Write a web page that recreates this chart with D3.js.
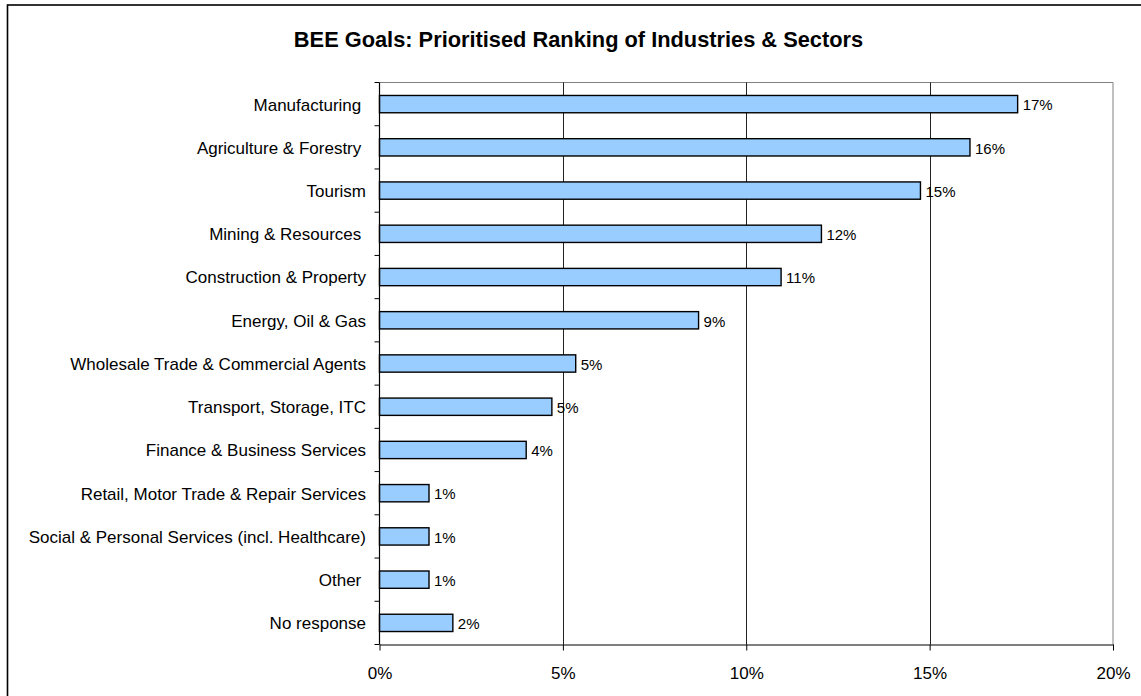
<!DOCTYPE html>
<html>
<head>
<meta charset="utf-8">
<script src="https://cdn.jsdelivr.net/npm/d3@7"></script>
<style>
  html, body { margin: 0; padding: 0; background: #fff; }
  svg { display: block; }
  text { font-family: "Liberation Sans", Arial, sans-serif; fill: #000; white-space: pre; }
</style>
</head>
<body>
<svg id="chart" width="1141" height="696"></svg>
<script>
// Sectors, top to bottom (trailing spaces are part of the labels)
const categories = [
  "Manufacturing ",
  "Agriculture & Forestry ",
  "Tourism",
  "Mining & Resources ",
  "Construction & Property",
  "Energy, Oil & Gas",
  "Wholesale Trade & Commercial Agents",
  "Transport, Storage, ITC",
  "Finance & Business Services",
  "Retail, Motor Trade & Repair Services",
  "Social & Personal Services (incl. Healthcare)",
  "Other ",
  "No response"
];

// Share of responses, in percent
const shares = [17.4, 16.1, 14.75, 12.05, 10.95, 8.7, 5.35, 4.7, 4.0, 1.35, 1.35, 1.35, 2.0];

// Horizontal axis ticks (percent)
const xTicks = [0, 5, 10, 15, 20];
const xTickLabels = ["0%", "5%", "10%", "15%", "20%"];

const title = "BEE Goals: Prioritised Ranking of Industries & Sectors";

const svg = d3.select("#chart");

const plot = { left: 379.5, right: 1113, top: 82.5, bottom: 644.5 };

const x = d3.scaleLinear().domain([0, 20]).range([plot.left, plot.right]);
const y = d3.scaleBand().domain(categories).range([plot.top, plot.bottom])
  .paddingInner(0.6).paddingOuter(0.3);

// Outer chart frame (runs off the right and bottom edges)
svg.append("rect")
  .attr("x", 7.5).attr("y", 5).attr("width", 1200).attr("height", 800)
  .attr("fill", "#fff").attr("stroke", "#000").attr("stroke-width", 1.6);

// Title
svg.append("text")
  .attr("x", 578.5).attr("y", 46.7)
  .attr("text-anchor", "middle")
  .style("font-size", "21.8px").style("font-weight", "bold")
  .text(title);

// Plot-area border (top and right)
svg.append("path")
  .attr("d", `M${plot.left},${plot.top}H${plot.right}V${plot.bottom}`)
  .attr("fill", "none").attr("stroke", "#808080").attr("stroke-width", 1);

// Vertical gridlines
svg.append("g")
  .selectAll("line")
  .data(xTicks.filter(t => t > 0 && t < 20))
  .join("line")
  .attr("x1", d => Math.round(x(d)) + 0.5).attr("x2", d => Math.round(x(d)) + 0.5)
  .attr("y1", plot.top).attr("y2", plot.bottom)
  .attr("stroke", "#222").attr("stroke-width", 1);

// Bars
svg.append("g")
  .selectAll("rect")
  .data(categories.map((c, i) => ({ c, v: shares[i] })))
  .join("rect")
  .attr("x", x(0))
  .attr("y", d => y(d.c))
  .attr("width", d => x(d.v) - x(0))
  .attr("height", y.bandwidth())
  .attr("fill", "#99CCFF")
  .attr("stroke", "#000")
  .attr("stroke-width", 1.4);

// Value labels
svg.append("g")
  .selectAll("text")
  .data(categories.map((c, i) => ({ c, v: shares[i] })))
  .join("text")
  .attr("x", d => x(d.v) + 5)
  .attr("y", d => y(d.c) + y.bandwidth() / 2 + 6.3)
  .style("font-size", "15px")
  .text(d => Math.round(d.v) + "%");

// Category axis: labels centred on bands, ticks on band boundaries
const step = y.step();
const yAxis = svg.append("g");
yAxis.append("line")
  .attr("x1", plot.left).attr("x2", plot.left)
  .attr("y1", plot.top).attr("y2", plot.bottom)
  .attr("stroke", "#000").attr("stroke-width", 1.2);
yAxis.selectAll("line.tick")
  .data(d3.range(categories.length + 1))
  .join("line")
  .attr("class", "tick")
  .attr("x1", plot.left - 5).attr("x2", plot.left)
  .attr("y1", i => plot.top + i * step).attr("y2", i => plot.top + i * step)
  .attr("stroke", "#000").attr("stroke-width", 1);
yAxis.selectAll("text")
  .data(categories)
  .join("text")
  .attr("x", 366)
  .attr("y", d => y(d) + y.bandwidth() / 2 + 6.4)
  .attr("text-anchor", "end")
  .attr("xml:space", "preserve")
  .style("font-size", "17px")
  .text(d => d);

// Value axis along the bottom
const xAxis = d3.axisBottom(x)
  .tickValues(xTicks)
  .tickFormat((d, i) => xTickLabels[i])
  .tickSize(6)
  .tickSizeOuter(0)
  .tickPadding(16);
const gx = svg.append("g")
  .attr("transform", `translate(0,${plot.bottom})`)
  .call(xAxis);
gx.select(".domain").attr("stroke", "#000").attr("stroke-width", 1.2);
gx.selectAll(".tick line").attr("stroke", "#000");
gx.selectAll(".tick text")
  .style("font-size", "17px")
  .style("font-family", "'Liberation Sans', Arial, sans-serif")
  .attr("fill", "#000");
</script>
</body>
</html>
